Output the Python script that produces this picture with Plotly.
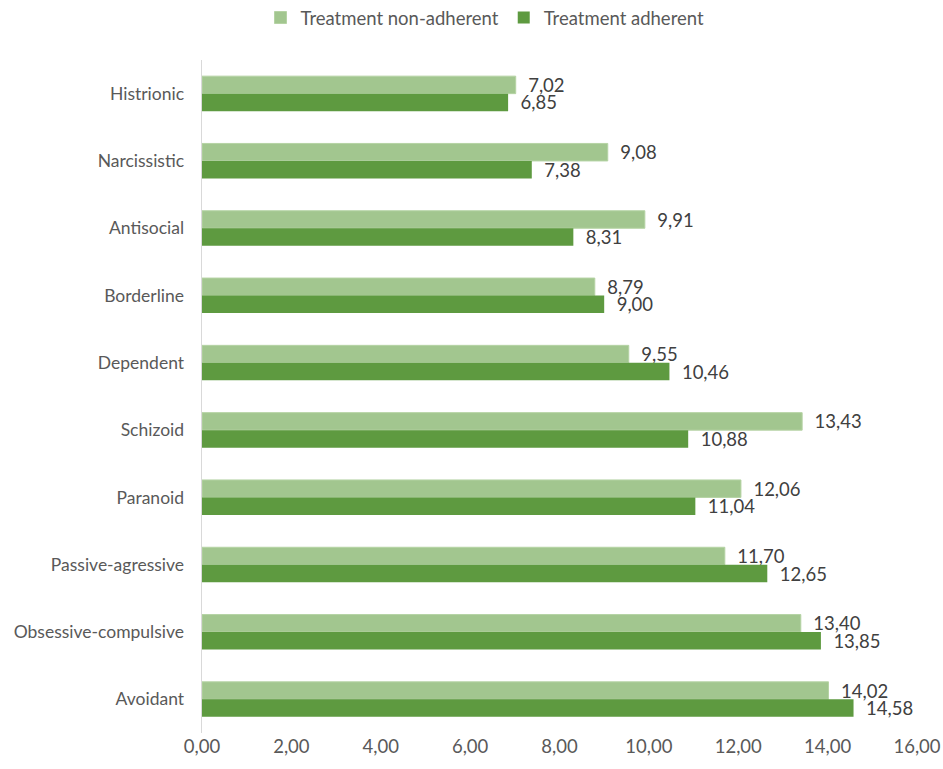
import plotly.graph_objects as go

categories = ["Histrionic", "Narcissistic", "Antisocial", "Borderline", "Dependent",
              "Schizoid", "Paranoid", "Passive-agressive", "Obsessive-compulsive", "Avoidant"]
non_adherent = [7.02, 9.08, 9.91, 8.79, 9.55, 13.43, 12.06, 11.70, 13.40, 14.02]
adherent = [6.85, 7.38, 8.31, 9.00, 10.46, 10.88, 11.04, 12.65, 13.85, 14.58]
x_ticks = [0, 2, 4, 6, 8, 10, 12, 14, 16]

FONT = "Lato"
LIGHT = "#A2C68F"
DARK = "#5E9A40"
TXT = "#595959"

fig = go.Figure()
fig.add_trace(go.Bar(
    y=categories, x=non_adherent, orientation="h", name="Treatment non-adherent",
    marker=dict(color=LIGHT, line=dict(color="#B5D3A4", width=1)),
    texttemplate="  %{x:.2f}", textposition="outside", cliponaxis=False,
    constraintext="none",
    textfont=dict(family=FONT, size=18.5, color="#404040"),
))
fig.add_trace(go.Bar(
    y=categories, x=adherent, orientation="h", name="Treatment adherent",
    marker=dict(color=DARK, line=dict(width=0)),
    texttemplate="  %{x:.2f}", textposition="outside", cliponaxis=False,
    constraintext="none",
    textfont=dict(family=FONT, size=18.5, color="#404040"),
))

fig.update_layout(
    width=943, height=769,
    margin=dict(l=202, r=26, t=60, b=36, autoexpand=False),
    paper_bgcolor="white", plot_bgcolor="white",
    barmode="group", bargap=0.48, bargroupgap=0,
    separators=",.",
    font=dict(family=FONT, size=17.5, color=TXT),
    showlegend=True,
    legend=dict(orientation="h", x=485 / 943, xanchor="center", xref="container",
                y=1 - 18 / 769, yanchor="middle", yref="container",
                font=dict(family=FONT, size=18.5, color=TXT),
                itemwidth=30, traceorder="normal", tracegroupgap=0),
    xaxis=dict(range=[0, 16], tickvals=x_ticks, tickformat=".2f", showgrid=False,
               zeroline=False, showline=False, ticks="", automargin=False,
               tickfont=dict(family=FONT, size=18.5, color=TXT)),
    yaxis=dict(autorange="reversed", showline=True, linecolor="#D9D9D9", linewidth=1,
               ticks="", ticksuffix="   ", automargin=False,
               tickfont=dict(family=FONT, size=17.5, color=TXT)),
)
fig.write_html("out.html")
